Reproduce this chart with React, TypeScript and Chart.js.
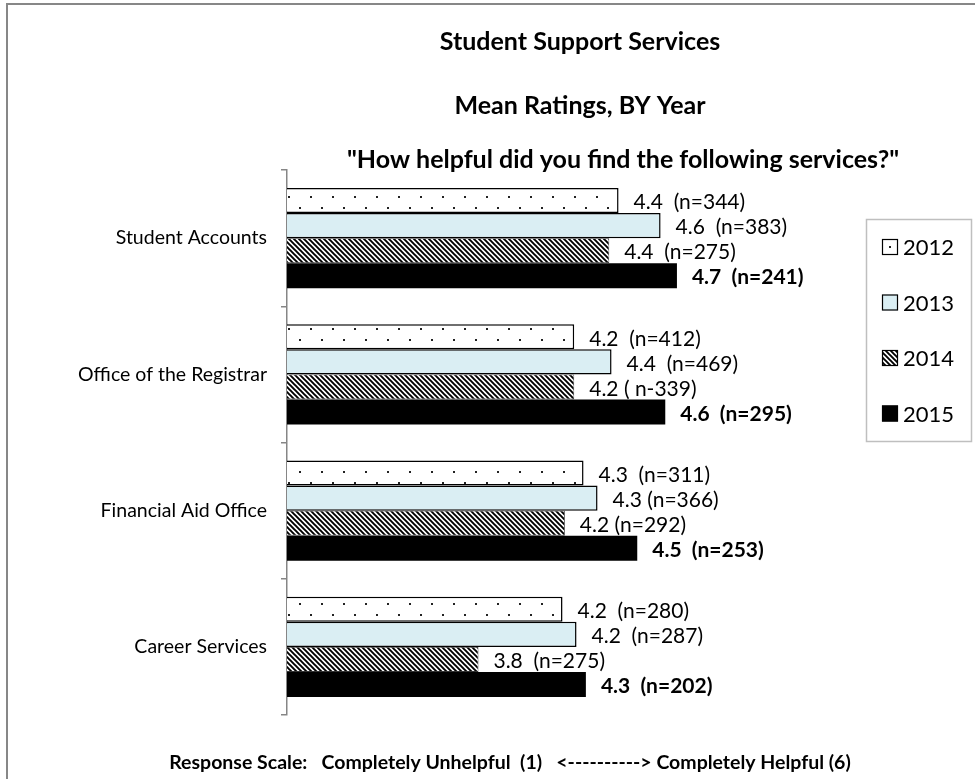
import React, { useEffect, useRef } from "react";
import { Chart, registerables } from "chart.js";

Chart.register(...registerables);

// ---------- data ----------
const categories = ["Student Accounts", "Office of the Registrar", "Financial Aid Office", "Career Services"];
const years = ["2012", "2013", "2014", "2015"];
const values2012 = [4.42, 4.23, 4.27, 4.18];
const values2013 = [4.6, 4.39, 4.33, 4.24];
const values2014 = [4.38, 4.23, 4.19, 3.82];
const values2015 = [4.67, 4.62, 4.5, 4.28];
const labels2012 = ["4.4  (n=344)", "4.2  (n=412)", "4.3  (n=311)", "4.2  (n=280)"];
const labels2013 = ["4.6  (n=383)", "4.4  (n=469)", "4.3 (n=366)", "4.2  (n=287)"];
const labels2014 = ["4.4  (n=275)", "4.2 ( n-339)", "4.2 (n=292)", "3.8  (n=275)"];
const labels2015 = ["4.7  (n=241)", "4.6  (n=295)", "4.5  (n=253)", "4.3  (n=202)"];
const scaleMin = 3;
const scaleMax = 5;
const titleText = "Student Support Services";
const subtitleText = "Mean Ratings, BY Year";
const questionText = "\"How helpful did you find the following services?\"";
const noteText = "Response Scale:   Completely Unhelpful  (1)   <----------> Completely Helpful (6)";

const FONT = "Lato, 'Open Sans', sans-serif";

function makeDots(): CanvasPattern | string {
  const c = document.createElement("canvas");
  c.width = 22;
  c.height = 22;
  const g = c.getContext("2d");
  if (!g) return "#fff";
  g.fillStyle = "#fff";
  g.fillRect(0, 0, 22, 22);
  g.fillStyle = "#222";
  g.fillRect(2, 20, 2, 2);
  g.fillRect(13, 9, 2, 2);
  return g.createPattern(c, "repeat") || "#fff";
}

function makeHatch(): CanvasPattern | string {
  const p = 5;
  const c = document.createElement("canvas");
  c.width = p;
  c.height = p;
  const g = c.getContext("2d");
  if (!g) return "#555";
  g.fillStyle = "#fff";
  g.fillRect(0, 0, p, p);
  g.strokeStyle = "#000";
  g.lineWidth = 1.9;
  g.beginPath();
  g.moveTo(-p, -p);
  g.lineTo(2 * p, 2 * p);
  g.moveTo(0, -p);
  g.lineTo(2 * p, p);
  g.moveTo(-p, 0);
  g.lineTo(p, 2 * p);
  g.stroke();
  return g.createPattern(c, "repeat") || "#555";
}

const valueLabels = [labels2012, labels2013, labels2014, labels2015];

const decorPlugin = {
  id: "decor",
  beforeDraw(chart: any) {
    const ctx = chart.ctx as CanvasRenderingContext2D;
    ctx.save();
    ctx.fillStyle = "#fff";
    ctx.fillRect(0, 0, chart.width, chart.height);
    ctx.strokeStyle = "#878787";
    ctx.lineWidth = 2;
    ctx.beginPath();
    ctx.moveTo(7, chart.height + 2);
    ctx.lineTo(7, 4);
    ctx.lineTo(chart.width + 2, 4);
    ctx.stroke();
    ctx.restore();
  },
  afterDatasetsDraw(chart: any) {
    const ctx = chart.ctx as CanvasRenderingContext2D;
    ctx.save();
    ctx.fillStyle = "#000";
    ctx.textAlign = "left";
    ctx.textBaseline = "middle";
    chart.data.datasets.forEach((_ds: any, di: number) => {
      const meta = chart.getDatasetMeta(di);
      meta.data.forEach((bar: any, i: number) => {
        ctx.font = `${di === 3 ? "bold " : ""}21px ${FONT}`;
        ctx.fillText(valueLabels[di][i], bar.x + 15, bar.y + 2);
      });
    });
    ctx.restore();
  },
  afterDraw(chart: any) {
    const ctx = chart.ctx as CanvasRenderingContext2D;
    ctx.save();
    ctx.fillStyle = "#000";
    ctx.textBaseline = "middle";
    ctx.textAlign = "center";
    ctx.font = `bold 25px ${FONT}`;
    ctx.fillText(titleText, 580, 42);
    ctx.fillText(subtitleText, 580, 106);
    ctx.font = `bold 25px ${FONT}`;
    ctx.fillText(questionText, 623, 160);
    ctx.font = `bold 19.5px ${FONT}`;
    ctx.fillText(noteText, 510, 763);

    // legend
    ctx.strokeStyle = "#BFBFBF";
    ctx.lineWidth = 1.5;
    ctx.strokeRect(866.5, 219.5, 105, 222);
    ctx.textAlign = "left";
    ctx.font = `22px ${FONT}`;
    chart.data.datasets.forEach((ds: any, di: number) => {
      const y = 247 + di * 55.5;
      if (di === 0) {
        ctx.fillStyle = "#fff";
        ctx.fillRect(882, y - 8, 16, 16);
        ctx.fillStyle = "#222";
        ctx.fillRect(889, y - 1, 2, 2);
      } else {
        ctx.fillStyle = ds.backgroundColor;
        ctx.fillRect(882, y - 8, 16, 16);
      }
      ctx.strokeStyle = "#000";
      ctx.lineWidth = 1.2;
      ctx.strokeRect(882.5, y - 7.5, 15, 15);
      ctx.fillStyle = "#000";
      ctx.fillText(ds.label, 903, y + 1);
    });
    ctx.restore();
  },
};

export default function App() {
  const ref = useRef<HTMLCanvasElement>(null);
  useEffect(() => {
    const canvas = ref.current;
    if (!canvas) return;
    const dots = makeDots();
    const hatch = makeHatch();
    const common = { categoryPercentage: 0.734, barPercentage: 1.0 };
    const chart = new Chart(canvas, {
      type: "bar",
      data: {
        labels: categories,
        datasets: [
          { label: years[0], data: values2012, backgroundColor: dots as any, borderColor: "#000", borderWidth: 1.5, ...common },
          { label: years[1], data: values2013, backgroundColor: "#DAEEF3", borderColor: "#000", borderWidth: 1.5, ...common },
          { label: years[2], data: values2014, backgroundColor: hatch as any, borderColor: "#333", borderWidth: 0.8, ...common },
          { label: years[3], data: values2015, backgroundColor: "#000", borderColor: "#000", borderWidth: 0, ...common },
        ],
      },
      options: {
        indexAxis: "y",
        responsive: false,
        animation: false,
        devicePixelRatio: 1,
        layout: { padding: { top: 170, right: 221, bottom: 64, left: 0 } },
        plugins: { legend: { display: false }, title: { display: false }, tooltip: { enabled: false } },
        scales: {
          x: { type: "linear", min: scaleMin, max: scaleMax, display: false },
          y: {
            type: "category",
            offset: true,
            afterFit: (scale: any) => {
              scale.width = 287;
            },
            grid: { display: true, drawOnChartArea: false, drawTicks: true, tickLength: 6, color: "#868686", offset: true, lineWidth: 1.5 },
            border: { display: true, color: "#868686", width: 1.5 },
            ticks: { color: "#000", padding: 14, font: { family: FONT, size: 19.5 } },
          },
        },
      },
      plugins: [decorPlugin],
    } as any);
    return () => chart.destroy();
  }, []);
  return (
    <div style={{ position: "fixed", left: 0, top: 0, width: 975, height: 779, background: "#fff" }}>
      <canvas ref={ref} width={975} height={779} style={{ display: "block", width: 975, height: 779 }} />
    </div>
  );
}
